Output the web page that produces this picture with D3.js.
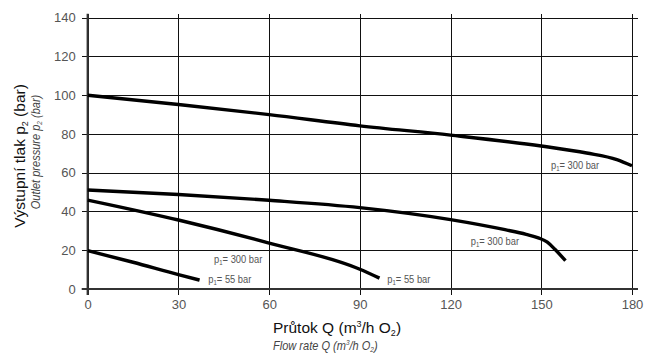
<!DOCTYPE html>
<html>
<head>
<meta charset="utf-8">
<script src="https://cdn.jsdelivr.net/npm/d3@7/dist/d3.min.js"></script>
<style>
  html, body { margin: 0; padding: 0; background: #fff; }
  svg { display: block; }
  text { font-family: "Liberation Sans", Arial, Helvetica, sans-serif; }
</style>
</head>
<body>
<svg id="chart" width="645" height="354"></svg>
<script>
// Flow rate (m3/h O2) ticks and outlet pressure (bar) ticks
const xTicks = [0, 30, 60, 90, 120, 150, 180];
const yTicks = [0, 20, 40, 60, 80, 100, 120, 140];

// Characteristic curves: [flow rate, outlet pressure]
const curve300High = [[0, 100], [30, 95.2], [60, 90], [90, 84.2], [120, 79.4], [150, 73.8], [165, 70.2], [175, 66.8], [180, 63.6]];
const curve300Low  = [[0, 51.1], [30, 48.8], [60, 45.8], [90, 42], [120, 35.8], [138, 30.6], [145, 28.2], [149, 26.4], [152, 24.2], [154.5, 20.5], [158, 14.6]];
const curve55High  = [[0, 45.9], [30, 35.6], [60, 23.7], [90, 10.2], [96.5, 5.6]];
const curve55Low   = [[0, 19.8], [15, 13.8], [30, 7.4], [37, 4.6]];
const curves = [curve300High, curve300Low, curve55High, curve55Low];

// Curve labels: anchor [flow rate, pressure] and inlet pressure text
const labelAnchors = [[153.2, 61.8], [126.7, 22.7], [41.8, 13.3], [39.9, 3.3], [99.1, 2.9]];
const labelPressures = ["300", "300", "300", "55", "55"];

const svg = d3.select("#chart");
const plotLeft = 87.7, plotRight = 632, plotTop = 17.7, plotBottom = 289;

const x = d3.scaleLinear().domain([0, 180]).range([plotLeft, plotRight]);
const y = d3.scaleLinear().domain([0, 140]).range([plotBottom, plotTop]);

// Grid lines drawn via axes with full-length ticks
const gridColor = "#111";

const yGrid = svg.append("g")
  .attr("transform", `translate(${plotLeft - 6},0)`)
  .call(d3.axisRight(y).tickValues(yTicks).tickSize(plotRight - plotLeft + 12).tickFormat(""));
yGrid.select(".domain").remove();
yGrid.selectAll("line").attr("stroke", gridColor).attr("stroke-width", 1).attr("shape-rendering", "crispEdges");

const xGrid = svg.append("g")
  .attr("transform", `translate(0,${plotTop - 4})`)
  .call(d3.axisBottom(x).tickValues(xTicks).tickSize(plotBottom - plotTop + 10).tickFormat(""));
xGrid.select(".domain").remove();
xGrid.selectAll("line").attr("stroke", gridColor).attr("stroke-width", 1).attr("shape-rendering", "crispEdges");

// Emphasised left axis and zero line
svg.append("line")
  .attr("x1", x(0)).attr("x2", x(0))
  .attr("y1", plotTop - 4).attr("y2", plotBottom + 6)
  .attr("stroke", "#333").attr("stroke-width", 2.2);
svg.append("line")
  .attr("x1", plotLeft - 6).attr("x2", plotRight + 6)
  .attr("y1", y(0)).attr("y2", y(0))
  .attr("stroke", "#333").attr("stroke-width", 1.8);

// Tick labels
const yAxis = svg.append("g")
  .attr("transform", `translate(${plotLeft - 6},0)`)
  .call(d3.axisLeft(y).tickValues(yTicks).tickSize(0).tickPadding(6));
yAxis.select(".domain").remove();
yAxis.selectAll("text").attr("fill", "#555").attr("font-size", 13).attr("font-family", null);

const xAxis = svg.append("g")
  .attr("transform", `translate(0,${plotBottom + 6})`)
  .call(d3.axisBottom(x).tickValues(xTicks).tickSize(0).tickPadding(5));
xAxis.select(".domain").remove();
xAxis.selectAll("text").attr("fill", "#555").attr("font-size", 13).attr("font-family", null);

// Curves
const line = d3.line()
  .x(d => x(d[0]))
  .y(d => y(d[1]))
  .curve(d3.curveMonotoneX);

svg.append("g").selectAll("path")
  .data(curves)
  .join("path")
  .attr("d", line)
  .attr("fill", "none")
  .attr("stroke", "#000")
  .attr("stroke-width", 3.4)
  .attr("stroke-linecap", "butt");

// Curve labels "p1= ... bar", set in a narrowed face
const labels = svg.append("g").selectAll("text")
  .data(labelAnchors.map((a, i) => ({ a, p: labelPressures[i] })))
  .join("text")
  .attr("transform", d => `translate(${x(d.a[0])},${y(d.a[1])}) scale(0.85,1)`)
  .attr("font-size", 11)
  .attr("fill", "#555");
labels.append("tspan").text("p");
labels.append("tspan").text("1").attr("font-size", 7).attr("dy", 2);
labels.append("tspan").text(d => "= " + d.p + " bar").attr("dy", -2);

// Y axis titles
const yTitle = svg.append("text")
  .attr("transform", "translate(25,156) rotate(-90)")
  .attr("text-anchor", "middle")
  .attr("font-size", 15.5)
  .attr("fill", "#111");
yTitle.append("tspan").text("Výstupní tlak p");
yTitle.append("tspan").text("2").attr("font-size", 9).attr("dy", 3);
yTitle.append("tspan").text(" (bar)").attr("dy", -3);

const yTitle2 = svg.append("text")
  .attr("transform", "translate(40,152) rotate(-90) scale(0.92,1)")
  .attr("text-anchor", "middle")
  .attr("font-size", 12)
  .attr("font-style", "italic")
  .attr("fill", "#444");
yTitle2.append("tspan").text("Outlet pressure p");
yTitle2.append("tspan").text("2").attr("font-size", 7).attr("dy", 2);
yTitle2.append("tspan").text(" (bar)").attr("dy", -2);

// X axis titles
const xTitle = svg.append("text")
  .attr("x", 273).attr("y", 333)
  .attr("font-size", 15.5)
  .attr("fill", "#111");
xTitle.append("tspan").text("Průtok Q (m");
xTitle.append("tspan").text("3").attr("font-size", 9).attr("dy", -6);
xTitle.append("tspan").text("/h O").attr("dy", 6);
xTitle.append("tspan").text("2").attr("font-size", 9).attr("dy", 3);
xTitle.append("tspan").text(")").attr("dy", -3);

const xTitle2 = svg.append("text")
  .attr("transform", "translate(273,350) scale(0.92,1)")
  .attr("font-size", 12)
  .attr("font-style", "italic")
  .attr("fill", "#444");
xTitle2.append("tspan").text("Flow rate Q (m");
xTitle2.append("tspan").text("3").attr("font-size", 7).attr("dy", -5);
xTitle2.append("tspan").text("/h O").attr("dy", 5);
xTitle2.append("tspan").text("2").attr("font-size", 7).attr("dy", 2);
xTitle2.append("tspan").text(")").attr("dy", -2);
</script>
</body>
</html>
